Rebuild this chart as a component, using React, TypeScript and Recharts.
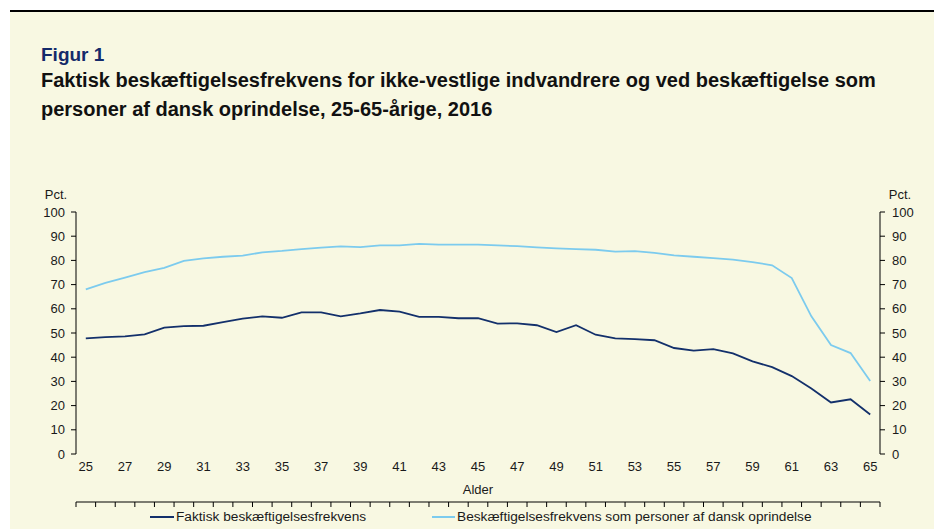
import { LineChart, Line, XAxis, YAxis, Legend } from 'recharts';

const ages = [
  25, 26, 27, 28, 29, 30, 31, 32, 33, 34, 35, 36, 37, 38, 39, 40, 41, 42, 43, 44, 45,
  46, 47, 48, 49, 50, 51, 52, 53, 54, 55, 56, 57, 58, 59, 60, 61, 62, 63, 64, 65,
];

const faktisk = [
  47.8, 48.3, 48.6, 49.4, 52.2, 52.8, 53.0, 54.5, 55.9, 56.9, 56.3, 58.5, 58.5, 56.9,
  58.1, 59.5, 58.8, 56.7, 56.7, 56.1, 56.1, 53.9, 54.0, 53.2, 50.4, 53.2, 49.3, 47.8,
  47.5, 47.0, 43.8, 42.7, 43.3, 41.6, 38.3, 35.9, 32.2, 27.1, 21.3, 22.6, 16.3,
];

const danskNiveau = [
  68.0, 70.7, 72.9, 75.2, 76.9, 79.8, 80.8, 81.5, 82.0, 83.3, 83.9, 84.7, 85.3, 85.8,
  85.5, 86.2, 86.2, 86.8, 86.5, 86.5, 86.5, 86.2, 85.9, 85.4, 85.0, 84.7, 84.4, 83.6,
  83.8, 83.1, 82.1, 81.5, 80.9, 80.3, 79.3, 78.0, 72.7, 56.9, 45.0, 41.7, 30.2,
];

const ageLabels = [25, 27, 29, 31, 33, 35, 37, 39, 41, 43, 45, 47, 49, 51, 53, 55, 57, 59, 61, 63, 65];
const pctTicks = [0, 10, 20, 30, 40, 50, 60, 70, 80, 90, 100];

const seriesNames = ['Faktisk beskæftigelsesfrekvens', 'Beskæftigelsesfrekvens som personer af dansk oprindelse'];

const data = ages.map((a, i) => ({ alder: a, faktisk: faktisk[i], dansk: danskNiveau[i] }));
// tick marks sit between categories, like the Excel original
const boundaryTicks = [...ages.map((a) => a - 0.5), ages[ages.length - 1] + 0.5];

const FONT = '"Liberation Sans", Arial, sans-serif';
const DARK = '#13306b';
const LIGHT = '#7ccbee';
const CREAM = '#f8f8e2';
const INK = '#1a1a1a';

const tickStyle = { fill: INK, fontSize: 13, fontFamily: FONT };
const axisStroke = { stroke: '#000', strokeWidth: 1 };

const LegendContent = () => (
  <div style={{ position: 'relative', height: 22, fontFamily: FONT, fontSize: 13.7, color: INK }}>
    <div style={{ position: 'absolute', left: 150, top: 2, display: 'flex', alignItems: 'center' }}>
      <span style={{ width: 24, height: 2, background: DARK, display: 'inline-block', marginRight: 2 }} />
      <span>{seriesNames[0]}</span>
    </div>
    <div style={{ position: 'absolute', left: 432, top: 2, display: 'flex', alignItems: 'center' }}>
      <span style={{ width: 23, height: 2, background: LIGHT, display: 'inline-block', marginRight: 2 }} />
      <span>{seriesNames[1]}</span>
    </div>
  </div>
);

export default function App() {
  return (
    <div style={{ position: 'absolute', left: 0, top: 0, width: 934, height: 529, background: '#fff', overflow: 'hidden' }}>
      <div style={{ position: 'absolute', left: 10, top: 10, width: 924, height: 2, background: '#000' }} />
      <div style={{ position: 'absolute', left: 10, top: 12, width: 924, height: 517, background: CREAM }} />
      <div style={{ position: 'absolute', left: 41, top: 44, fontFamily: FONT, fontWeight: 700, fontSize: 19, color: '#142a6a' }}>
        Figur 1
      </div>
      <div
        style={{
          position: 'absolute',
          left: 41,
          top: 66,
          width: 890,
          fontFamily: FONT,
          fontWeight: 700,
          fontSize: 20,
          lineHeight: '29px',
          color: '#111',
          whiteSpace: 'nowrap',
        }}
      >
        Faktisk beskæftigelsesfrekvens for ikke-vestlige indvandrere og ved beskæftigelse som
        <br />
        personer af dansk oprindelse, 25-65-årige, 2016
      </div>
      <div style={{ position: 'absolute', left: 0, top: 0 }}>
        <LineChart width={934} height={529} data={data} margin={{ top: 212, right: 14, bottom: 0, left: 36 }}>
          <XAxis
            xAxisId="marks"
            dataKey="alder"
            type="number"
            domain={[24.5, 65.5]}
            ticks={boundaryTicks}
            interval={0}
            height={5}
            tickSize={5}
            tickFormatter={() => ''}
            axisLine={axisStroke}
            tickLine={axisStroke}
          />
          <XAxis
            xAxisId="labels"
            dataKey="alder"
            type="number"
            domain={[24.5, 65.5]}
            ticks={ageLabels}
            interval={0}
            height={48}
            axisLine={false}
            tickLine={false}
            tickSize={0}
            tickMargin={8}
            tick={tickStyle}
            label={{ value: 'Alder', position: 'insideBottom', offset: 8, fill: INK, fontSize: 13, fontFamily: FONT }}
          />
          <YAxis
            yAxisId="left"
            orientation="left"
            width={40}
            domain={[0, 100]}
            ticks={pctTicks}
            interval={0}
            tickSize={5}
            tickMargin={6}
            axisLine={axisStroke}
            tickLine={axisStroke}
            tick={tickStyle}
            label={{ value: 'Pct.', position: 'top', offset: 13, fill: INK, fontSize: 13, fontFamily: FONT }}
          />
          <YAxis
            yAxisId="right"
            orientation="right"
            width={40}
            domain={[0, 100]}
            ticks={pctTicks}
            interval={0}
            tickSize={5}
            tickMargin={7}
            axisLine={axisStroke}
            tickLine={axisStroke}
            tick={tickStyle}
            label={{ value: 'Pct.', position: 'top', offset: 13, fill: INK, fontSize: 13, fontFamily: FONT }}
          />
          <Legend verticalAlign="bottom" wrapperStyle={{ left: 0, width: 934 }} content={<LegendContent />} />
          <Line
            xAxisId="marks"
            yAxisId="left"
            dataKey="faktisk"
            name={seriesNames[0]}
            stroke={DARK}
            strokeWidth={1.8}
            dot={false}
            type="linear"
            isAnimationActive={false}
          />
          <Line
            xAxisId="marks"
            yAxisId="right"
            dataKey="dansk"
            name={seriesNames[1]}
            stroke={LIGHT}
            strokeWidth={1.8}
            dot={false}
            type="linear"
            isAnimationActive={false}
          />
        </LineChart>
      </div>
    </div>
  );
}
